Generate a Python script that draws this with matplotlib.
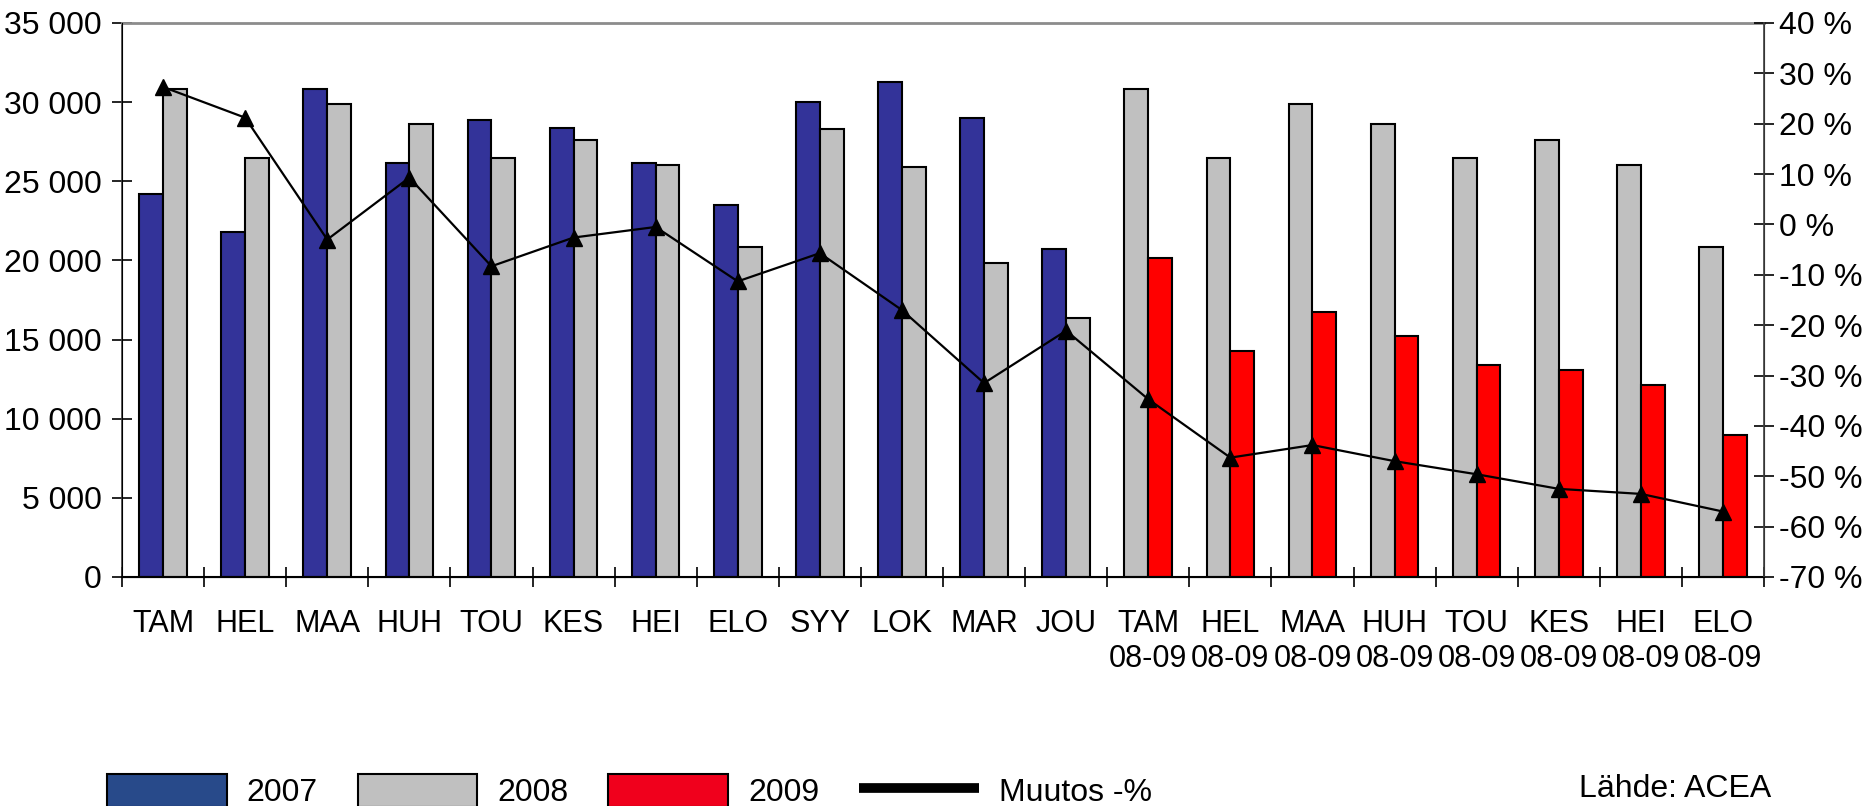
import numpy as np
import matplotlib.pyplot as plt
from matplotlib.patches import Patch
from matplotlib.lines import Line2D

## Data ##
kuukaudet = ['TAM', 'HEL', 'MAA', 'HUH', 'TOU', 'KES', 'HEI', 'ELO',
             'SYY', 'LOK', 'MAR', 'JOU']
jakso = '08-09'
v2007 = [24200, 21800, 30850, 26150, 28900, 28350, 26150, 23500,
         30000, 31250, 29000, 20700]
v2008 = [30850, 26450, 29900, 28600, 26450, 27600, 26000, 20850,
         28300, 25900, 19850, 16350]
v2009 = [20150, 14250, 16750, 15200, 13400, 13100, 12100, 9000]
muutos = [27.3, 21.2, -3.0, 9.3, -8.3, -2.6, -0.5, -11.3, -5.7, -17.0,
          -31.5, -21.1, -34.7, -46.3, -43.8, -47.0, -49.6, -52.5, -53.5, -57.0]

labels = kuukaudet + [k + '\n' + jakso for k in kuukaudet[:len(v2009)]]

## Colours ##
c07 = '#333399'
c08 = '#C0C0C0'
c09 = '#FF0000'

plt.rcParams['font.family'] = ['Liberation Sans', 'DejaVu Sans']
plt.rcParams['font.size'] = 23

fig = plt.figure(figsize=(18.72, 8.06), dpi=100)
ax = fig.add_axes([122/1872, 1 - 577/806, (1764 - 122)/1872, (577 - 23)/806])

n1 = len(v2007)
n2 = len(v2009)
x1 = np.arange(n1)
x2 = np.arange(n1, n1 + n2)
w = 0.29

## Bars ##
ax.bar(x1 - w/2, v2007, width=w, color=c07, edgecolor='black', linewidth=1.5)
ax.bar(x1 + w/2, v2008, width=w, color=c08, edgecolor='black', linewidth=1.5)
ax.bar(x2 - w/2, v2008[:n2], width=w, color=c08, edgecolor='black', linewidth=1.5)
ax.bar(x2 + w/2, v2009, width=w, color=c09, edgecolor='black', linewidth=1.5)

ax.set_xlim(-0.5, n1 + n2 - 0.5)
ax.set_ylim(0, 35000)
ax.set_yticks(np.arange(0, 35001, 5000))
ax.set_yticklabels([f'{v:,}'.replace(',', ' ') for v in range(0, 35001, 5000)])
ax.set_xticks(np.arange(n1 + n2))
ax.set_xticklabels(labels, linespacing=1.2, fontsize=22)
ax.set_xticks(np.arange(-0.5, n1 + n2), minor=True)
ax.tick_params(axis='x', which='major', length=0, pad=23)
ax.tick_params(axis='x', which='minor', direction='inout', length=14, width=1.2)
ax.tick_params(axis='y', direction='inout', length=14, width=1.2, pad=7.5)

ax.spines['top'].set_color('#8C8C8C')
ax.spines['top'].set_linewidth(2)
ax.spines['left'].set_color('#404040')
ax.spines['left'].set_linewidth(1.2)
ax.spines['bottom'].set_linewidth(1.5)

## Change line on right axis ##
ax2 = ax.twinx()
ax2.plot(np.arange(n1 + n2), muutos, color='black', linewidth=1.6,
         marker='^', markersize=12)
ax2.set_ylim(-70, 40)
ax2.set_yticks(np.arange(-70, 41, 10))
ax2.set_yticklabels([f'{v} %' for v in range(-70, 41, 10)])
ax2.tick_params(axis='y', direction='inout', length=14, width=1.2, pad=4)
ax2.spines['top'].set_visible(False)
ax2.spines['right'].set_color('#404040')
ax2.spines['right'].set_linewidth(1.2)

## Legend and source ##
handles = [Patch(facecolor='#284A8A', edgecolor='black', linewidth=1.5),
           Patch(facecolor=c08, edgecolor='black', linewidth=1.5),
           Patch(facecolor='#F0001C', edgecolor='black', linewidth=1.5),
           Line2D([0], [0], color='black', linewidth=7, solid_capstyle='butt')]
fig.legend(handles, ['2007', '2008', '2009', 'Muutos -%'], ncol=4,
           loc='upper left', bbox_to_anchor=(107/1872, 1 - 774/806),
           frameon=False, handlelength=3.75, handleheight=1.2,
           handletextpad=0.62, columnspacing=1.25, borderpad=0, borderaxespad=0)
fig.text(1771/1872, 1 - 797/806, 'Lähde: ACEA', ha='right', va='baseline')

plt.savefig('out.png', dpi=100)
